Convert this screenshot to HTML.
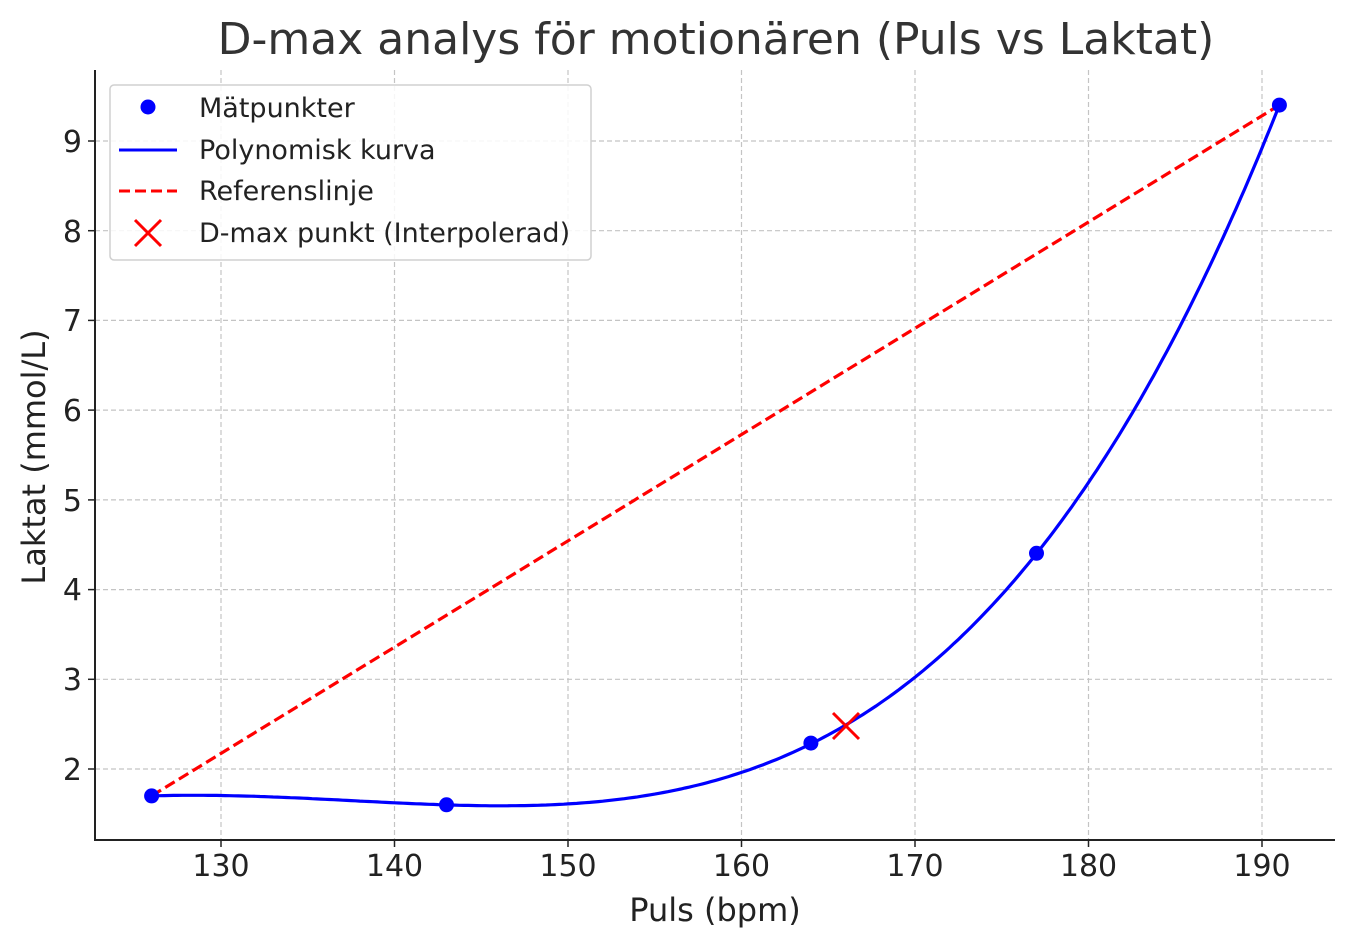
<!DOCTYPE html>
<html><head><meta charset="utf-8"><style>
body{margin:0;background:#fff}
svg text{font-family:"DejaVu Sans","Liberation Sans",sans-serif;fill:#222}
</style></head><body>
<svg id="s" width="1355" height="947" xmlns="http://www.w3.org/2000/svg">
<rect width="1355" height="947" fill="#fff"/>
<g stroke="#c4c4c4" stroke-width="1.2" stroke-dasharray="5,3">
<line x1="221" y1="70" x2="221" y2="840"/><line x1="394.5" y1="70" x2="394.5" y2="840"/>
<line x1="568" y1="70" x2="568" y2="840"/><line x1="741.5" y1="70" x2="741.5" y2="840"/>
<line x1="915" y1="70" x2="915" y2="840"/><line x1="1088.5" y1="70" x2="1088.5" y2="840"/>
<line x1="1262" y1="70" x2="1262" y2="840"/>
<line x1="95" y1="769" x2="1335" y2="769"/><line x1="95" y1="679.3" x2="1335" y2="679.3"/>
<line x1="95" y1="589.6" x2="1335" y2="589.6"/><line x1="95" y1="499.9" x2="1335" y2="499.9"/>
<line x1="95" y1="410.1" x2="1335" y2="410.1"/><line x1="95" y1="320.4" x2="1335" y2="320.4"/>
<line x1="95" y1="230.7" x2="1335" y2="230.7"/><line x1="95" y1="141" x2="1335" y2="141"/>
</g>
<g stroke="#222" stroke-width="2">
<line x1="95" y1="70" x2="95" y2="841"/><line x1="94" y1="840" x2="1335" y2="840"/>
</g>
<g stroke="#222" stroke-width="1.5">
<line x1="221" y1="840" x2="221" y2="847"/><line x1="394.5" y1="840" x2="394.5" y2="847"/>
<line x1="568" y1="840" x2="568" y2="847"/><line x1="741.5" y1="840" x2="741.5" y2="847"/>
<line x1="915" y1="840" x2="915" y2="847"/><line x1="1088.5" y1="840" x2="1088.5" y2="847"/>
<line x1="1262" y1="840" x2="1262" y2="847"/>
<line x1="88" y1="769" x2="95" y2="769"/><line x1="88" y1="679.3" x2="95" y2="679.3"/>
<line x1="88" y1="589.6" x2="95" y2="589.6"/><line x1="88" y1="499.9" x2="95" y2="499.9"/>
<line x1="88" y1="410.1" x2="95" y2="410.1"/><line x1="88" y1="320.4" x2="95" y2="320.4"/>
<line x1="88" y1="230.7" x2="95" y2="230.7"/><line x1="88" y1="141" x2="95" y2="141"/>
</g>
<g font-size="30" text-anchor="middle">
<text x="221" y="876">130</text><text x="394.5" y="876">140</text><text x="568" y="876">150</text>
<text x="741.5" y="876">160</text><text x="915" y="876">170</text><text x="1088.5" y="876">180</text>
<text x="1262" y="876">190</text>
</g>
<g font-size="30" text-anchor="end">
<text x="82" y="780">2</text><text x="82" y="690">3</text><text x="82" y="600">4</text>
<text x="82" y="511">5</text><text x="82" y="421">6</text><text x="82" y="331">7</text>
<text x="82" y="242">8</text><text x="82" y="152">9</text>
</g>
<text x="715" y="921" font-size="32" text-anchor="middle">Puls (bpm)</text>
<text transform="translate(45,457) rotate(-90)" font-size="32" text-anchor="middle">Laktat (mmol/L)</text>
<text x="716" y="54" font-size="44" text-anchor="middle" style="fill:#333">D-max analys för motionären (Puls vs Laktat)</text>
<line x1="151.6" y1="795.9" x2="1279.4" y2="105.1" stroke="#ff0000" stroke-width="3.2" stroke-dasharray="11,5"/>
<path id="curve" fill="none" stroke="#0000ff" stroke-width="3.2"/>
<g fill="#0000ff">
<circle cx="151.6" cy="795.9" r="7.5"/><circle cx="446.5" cy="804.8" r="7.5"/>
<circle cx="810.9" cy="743.1" r="7.5"/><circle cx="1036.5" cy="553.3" r="7.5"/><circle cx="1279.4" cy="105.1" r="7.5"/>
</g>
<g stroke="#ff0000" stroke-width="3"><line x1="833" y1="713" x2="859" y2="739"/><line x1="833" y1="739" x2="859" y2="713"/></g>
<rect x="110" y="85" width="481" height="175" rx="4" fill="#fff" fill-opacity="0.85" stroke="#d0d0d0" stroke-width="1.5"/>
<circle cx="148" cy="107" r="7.5" fill="#0000ff"/>
<line x1="119" y1="150" x2="177" y2="150" stroke="#0000ff" stroke-width="3"/>
<line x1="119" y1="191" x2="177" y2="191" stroke="#ff0000" stroke-width="3" stroke-dasharray="11,5"/>
<g stroke="#ff0000" stroke-width="3"><line x1="135" y1="220" x2="161" y2="246"/><line x1="135" y1="246" x2="161" y2="220"/></g>
<g font-size="27" style="fill:#333" textLength="0">
<text x="199" y="117">Mätpunkter</text><text x="199" y="159">Polynomisk kurva</text>
<text x="199" y="200">Referenslinje</text><text x="199" y="242">D-max punkt (Interpolerad)</text>
</g>
</svg>
<script>
var X=[126,143,164,177,191],Y=[1.7,1.6,2.28,4.4,9.4];
function L(x){var s=0;for(var i=0;i<5;i++){var p=Y[i];for(var j=0;j<5;j++)if(j!=i)p*=(x-X[j])/(X[i]-X[j]);s+=p;}return s;}
var d="";for(var x=126;x<=191.001;x+=0.25){var px=221+(x-130)*17.35,py=769-(L(x)-2)*89.714;d+=(d?"L":"M")+px.toFixed(1)+","+py.toFixed(1);}
document.getElementById("curve").setAttribute("d",d);
</script>
</body></html>
